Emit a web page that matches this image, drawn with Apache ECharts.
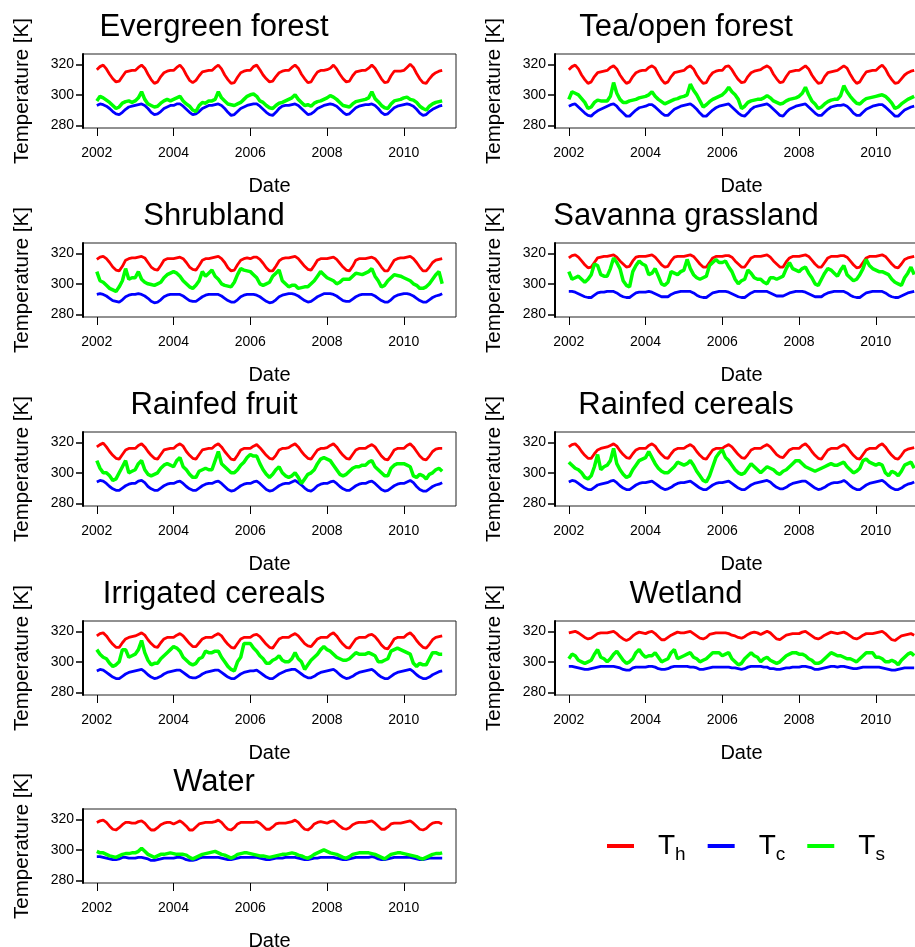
<!DOCTYPE html>
<html>
<head>
<meta charset="utf-8">
<script src="https://cdn.jsdelivr.net/npm/echarts@6/dist/echarts.min.js"></script>
<style>
  html, body { margin: 0; padding: 0; background: #fff; }
  #main { width: 915px; height: 947px; }
</style>
</head>
<body>
<div id="main"></div>
<script>
// panel titles, in reading order (left/right, top to bottom)
const panelNames = ['Evergreen forest', 'Tea/open forest', 'Shrubland', 'Savanna grassland',
  'Rainfed fruit', 'Rainfed cereals', 'Irrigated cereals', 'Wetland', 'Water'];
const seriesNames = ['Th', 'Tc', 'Ts'];
const seriesColors = ['#ff0000', '#0000ff', '#00ff00'];
const yearTicks = [2002, 2004, 2006, 2008, 2010];
const tempTicks = [280, 300, 320];

// monthly samples, Jan 2002 .. Jan 2011 (one row per year)
const evergreenTh = [
  316.5, 318.5, 319.5, 317, 313.5, 310.5, 308.5, 309, 312, 315, 315.5, 316,
  316, 318, 319.5, 317.5, 313.5, 310, 307.5, 308.5, 312, 314.5, 315.5, 316,
  316, 318, 319.5, 317, 313, 309.5, 308, 309.5, 312.5, 315, 315.5, 316,
  316, 318, 319.5, 317, 313, 310, 307.5, 308, 311.5, 314.5, 315.5, 316,
  316, 318.5, 319.5, 316.5, 313, 310.5, 308.5, 309, 312, 314.5, 315.5, 316,
  316, 318, 319.5, 317.5, 313.5, 310.5, 308, 308.5, 312, 315, 316, 316,
  316.5, 317.5, 319.5, 317, 313.5, 310.5, 308.5, 309, 312.5, 315, 315.5, 316,
  316, 317.5, 319.5, 317.5, 314, 310.5, 308, 308.5, 312.5, 315.5, 315.5, 315.5,
  316, 318, 320, 318, 314, 310.5, 308, 307.5, 310.5, 313, 314.5, 315.5,
  316];
const evergreenTc = [
  293, 294, 293.5, 292.5, 291, 289, 287.5, 287, 288.5, 290.5, 292, 292.5,
  293, 293.5, 294, 293, 291, 288.5, 287, 287.5, 289, 291, 292, 293,
  293, 294, 294, 292.5, 290.5, 288.5, 287, 287.5, 289, 291, 292, 293,
  293, 293.5, 294, 293, 291, 288.5, 286.5, 287, 289, 291, 292, 293,
  293.5, 294, 294, 292.5, 290.5, 288.5, 287, 286.5, 288.5, 291, 292.5, 293,
  293, 293.5, 294, 293, 291, 289, 287, 287.5, 289, 291, 292, 293,
  293.5, 294, 293.5, 292.5, 290.5, 288.5, 287, 287.5, 289.5, 291.5, 292.5, 293,
  293.5, 293.5, 294, 293, 291, 288.5, 287, 287.5, 289.5, 291.5, 292.5, 293,
  293.5, 294, 293.5, 292.5, 290.5, 288, 286.5, 287, 289, 290.5, 291.5, 292.5,
  293];
const evergreenTs = [
  296, 299, 298, 296.5, 295, 293, 291, 292, 294.5, 295.5, 296, 295,
  296, 298, 302, 297, 294, 293, 292, 292.5, 294.5, 296, 297, 296,
  297, 298, 299, 296, 294, 292.5, 290, 289, 293, 295, 294.5, 296,
  296, 297, 302, 298, 296, 294, 293.5, 293, 294, 295, 297, 299,
  300, 300.5, 299, 296, 295, 293, 291.5, 291, 293, 294.5, 295, 296,
  297, 298, 300, 297, 295, 293, 293.5, 292.5, 294.5, 295.5, 296, 297,
  298, 299.5, 298.5, 297, 295, 293, 292.5, 292, 294, 295.5, 296, 296.5,
  297, 298, 302, 297.5, 295.5, 293, 291.5, 291, 294, 296, 296.5, 297,
  298, 298.5, 297, 296.5, 295, 292.5, 291, 290, 292.5, 294, 295, 295.5,
  296];

const teaTh = [
  316.5, 318.5, 319.5, 317, 313, 310, 307.5, 308.5, 312, 314.5, 315, 315.5,
  316, 318, 319, 317, 313, 310, 307.5, 308.5, 312, 314.5, 315.5, 316,
  316, 318, 319, 317.5, 313.5, 310, 307.5, 308.5, 312, 314.5, 315, 315.5,
  316, 318, 319, 317, 313, 310, 307.5, 308, 312, 314.5, 315.5, 316,
  316, 318.5, 319, 316.5, 313, 310, 308, 308.5, 312, 314.5, 315.5, 316,
  316.5, 318, 319, 317.5, 313.5, 310.5, 308, 308.5, 312, 315, 315.5, 316,
  316, 317.5, 319, 317, 313, 310, 307.5, 308, 312, 314.5, 315, 315.5,
  316, 317.5, 319, 317.5, 313.5, 310, 307.5, 308.5, 312, 315, 315.5, 316,
  316, 318, 319.5, 317, 313, 310, 307.5, 308, 310.5, 313, 314.5, 315.5,
  316];
const teaTc = [
  292.5, 293.5, 294, 292, 290, 288, 286.5, 286, 288, 289.5, 290.5, 291.5,
  292.5, 293.5, 294, 292.5, 290, 288, 286, 286, 288, 290, 291.5, 292,
  292.5, 293.5, 293.5, 292, 290, 288, 286.5, 286.5, 288.5, 290.5, 291.5, 292.5,
  293, 293.5, 294, 292.5, 290.5, 288, 286, 286, 288, 290, 291.5, 292.5,
  293, 293.5, 294, 292, 290, 288, 286.5, 286, 288, 290.5, 292, 292.5,
  293, 293.5, 294, 292.5, 290.5, 288.5, 286.5, 286, 288.5, 290.5, 291.5, 292.5,
  293, 293.5, 294, 292, 290, 288, 286.5, 286.5, 288.5, 290.5, 292, 292.5,
  293, 293, 293.5, 292.5, 290.5, 288, 286.5, 286.5, 288.5, 290.5, 291.5, 292.5,
  293, 293.5, 293.5, 292, 290, 288, 286, 286, 288, 290, 291, 292,
  292.5];
const teaTs = [
  297, 302, 301, 300, 297.5, 295, 291, 292, 295, 296.5, 296, 296,
  296, 299, 308, 301, 297, 295, 295, 296, 296.5, 297, 298, 298.5,
  299, 300, 302, 299, 297, 295.5, 294, 295, 296, 297, 297.5, 298.5,
  299, 300, 307, 303, 300, 296, 292, 293.5, 295.5, 297, 298, 299,
  300, 302, 305, 302, 300, 297, 291, 292.5, 295, 296, 296.5, 297,
  297, 298, 299.5, 298, 296, 295, 294, 294.5, 296, 297, 297.5, 298,
  299, 301, 305, 300, 296, 294, 291, 292, 294, 295.5, 296.5, 297,
  297, 299.5, 306, 302, 299, 296.5, 294.5, 294, 296, 297.5, 298, 298.5,
  299, 299.5, 300, 299, 297, 294.5, 291, 292, 294, 295.5, 297, 298,
  299];

const shrubTh = [
  316, 317.5, 318, 316.5, 314, 311, 309, 308.5, 311.5, 315.5, 316.5, 317,
  317, 317.5, 318, 317, 314, 311, 309.5, 309, 312, 315.5, 316.5, 316.5,
  316.5, 317, 317.5, 316.5, 314, 311, 309.5, 309, 312, 315.5, 316.5, 316.5,
  317, 317.5, 318, 316.5, 314, 310.5, 308.5, 309, 312.5, 315.5, 316.5, 317,
  316.5, 317.5, 317.5, 316, 313.5, 310.5, 308.5, 308.5, 311.5, 315, 316.5, 317,
  317, 317.5, 318, 316.5, 314, 311.5, 309.5, 309, 312, 315.5, 316.5, 316.5,
  316.5, 317, 317.5, 316, 313.5, 311, 309, 308.5, 311.5, 315.5, 316.5, 316.5,
  316.5, 317, 317.5, 316.5, 314, 311, 308.5, 308.5, 312, 315.5, 316.5, 317,
  317, 317.5, 318, 316.5, 314, 311, 308.5, 308.5, 311, 314, 315.5, 316,
  316.5];
const shrubTc = [
  293, 293.5, 293, 292, 290.5, 289, 288.5, 288, 289.5, 291.5, 292.5, 293,
  293, 293.5, 293, 292, 290.5, 288.5, 287.5, 288, 289.5, 291.5, 292.5, 293,
  293, 293, 293, 292, 290.5, 289, 288.5, 288.5, 290, 291.5, 292.5, 293,
  293, 293, 293, 292, 290.5, 289, 288, 288, 289.5, 291.5, 292.5, 293,
  293, 293, 292.5, 291.5, 290, 288.5, 287.5, 288, 289.5, 291.5, 292.5, 293,
  293.5, 293.5, 293, 292, 290.5, 289, 288, 288.5, 290, 291.5, 292.5, 293.5,
  293.5, 293.5, 293, 292, 290.5, 289, 288.5, 288.5, 290, 291.5, 292.5, 293,
  293, 293, 293, 292, 290.5, 289, 288, 288, 289.5, 291.5, 292.5, 293,
  293.5, 293.5, 293, 292, 290.5, 289, 288, 288, 289.5, 291, 292, 292.5,
  293.5];
const shrubTs = [
  308, 302, 301, 299, 297, 296, 295, 298, 302, 310, 303, 304,
  304, 308, 303, 301, 300, 299.5, 299, 300, 301, 304, 306, 307,
  308, 307, 305, 302, 300, 298, 297, 299, 302, 308, 305, 307,
  309, 305, 303, 300, 299, 298.5, 298, 301, 306, 310, 309, 308.5,
  308, 306, 304, 300, 299, 300, 301, 305, 307, 309, 302, 300,
  298, 299, 299, 297, 297.5, 298, 298, 300, 302, 305, 308, 306,
  304, 303, 302, 300, 301, 303, 303, 303, 305, 307, 306.5, 306,
  307, 308, 310, 305, 302, 298, 299, 302, 304, 306, 305.5, 305,
  304, 303, 302, 300, 299, 297, 297, 298, 300, 303, 306, 308,
  300];

const savannaTh = [
  317, 318.5, 319, 317.5, 315, 312.5, 310.5, 311, 314, 317, 317.5, 318,
  318, 318.5, 319, 317.5, 315, 313, 311, 311.5, 315, 317.5, 318, 318,
  318, 318.5, 319, 317.5, 315, 312.5, 311, 311.5, 315, 317.5, 318, 318,
  318, 318.5, 319, 318, 315.5, 313, 311, 311, 314, 317, 318, 318,
  318, 318.5, 318.5, 317.5, 315, 313, 311, 311, 314, 317, 318, 318,
  318, 318.5, 319, 317.5, 315, 313, 311, 311, 314.5, 317, 318, 318,
  318, 318.5, 319, 318, 315.5, 313, 311, 311, 314, 317, 318, 318,
  318, 318.5, 318.5, 317.5, 315, 312.5, 310.5, 311, 314, 317, 318, 318,
  318, 318.5, 319, 318, 315.5, 313, 311, 310.5, 313, 316, 317, 317.5,
  318];
const savannaTc = [
  295, 295, 294.5, 293.5, 292.5, 291.5, 291, 291, 292.5, 294, 294.5, 294.5,
  295, 295, 295, 294, 292.5, 291.5, 291, 291, 292.5, 294, 294.5, 294.5,
  294.5, 295, 294.5, 293.5, 292.5, 291.5, 291.5, 291.5, 293, 294, 294.5, 295,
  295, 295, 295, 294, 292.5, 291.5, 291, 291, 292.5, 294, 294.5, 295,
  295, 295, 294.5, 293.5, 292.5, 291.5, 291, 291, 292.5, 294, 295, 295,
  295, 295, 295, 294, 293, 292, 292, 292, 293, 294, 294.5, 295,
  295, 295, 294.5, 293.5, 292.5, 291.5, 291.5, 291.5, 293, 294, 294.5, 295,
  295, 295, 295, 294, 292.5, 291.5, 291, 291, 292.5, 294, 294.5, 295,
  295, 295, 295, 294, 292.5, 291.5, 291, 291, 292, 293, 294, 294.5,
  295];
const savannaTs = [
  308, 303, 304, 305, 303, 301, 303, 306, 313, 312, 306, 305,
  305, 310, 317, 314, 310, 302, 299, 298, 308, 312, 315, 313,
  312, 306, 307, 310, 305, 300, 299, 301, 308, 307, 306, 308,
  309, 316, 310, 306, 304, 303, 304, 305, 312, 314, 316, 314,
  314, 315, 311, 308, 303, 300, 302, 303, 309, 307, 304, 303,
  303, 301, 300, 304, 304, 303, 304, 305, 310, 314, 310, 309,
  308, 310, 311, 307, 304, 300, 299, 303, 307, 310, 309, 307,
  305, 309, 312, 306, 304, 302, 303, 306, 310, 316, 312, 310,
  309, 308, 308, 307, 306, 303, 301, 300, 299, 304, 307, 311,
  306];

const fruitTh = [
  317, 318.5, 319.5, 317, 314, 311.5, 309.5, 309, 312, 315, 316, 316,
  316, 318, 319, 317, 314, 311.5, 309.5, 309, 312, 315, 315.5, 316,
  316, 318, 319, 317.5, 314, 311.5, 309.5, 309, 312, 315, 315.5, 316,
  316, 318, 319, 317, 314, 311.5, 309, 308.5, 311.5, 315, 316, 316,
  316, 317.5, 318.5, 316.5, 314, 311.5, 309.5, 309, 311.5, 315, 316, 316,
  316.5, 318, 319, 317, 314, 311.5, 309.5, 309, 312, 315, 316, 316,
  316.5, 318, 319, 317, 314, 311.5, 309.5, 309, 312, 315, 316, 316,
  316, 317.5, 318.5, 317, 314, 311, 309, 308.5, 311.5, 315, 316, 316,
  316, 318, 319, 317, 314, 311, 309, 308.5, 311, 314, 315.5, 316,
  316];
const fruitTc = [
  294, 295, 294.5, 293, 291, 289.5, 288.5, 288.5, 290, 291.5, 292.5, 293,
  293, 294.5, 295, 293.5, 291, 289.5, 288.5, 288.5, 290, 291.5, 292.5, 293,
  293, 294, 294.5, 293, 291, 289.5, 288.5, 288.5, 290, 291.5, 292.5, 293,
  293, 294, 294.5, 293, 291, 289, 288, 288.5, 290, 291.5, 292.5, 293,
  293, 294, 294.5, 293, 291, 289, 288, 288.5, 290, 291.5, 292.5, 293,
  293, 294, 295, 293.5, 292, 290, 288.5, 288, 289.5, 291.5, 292.5, 293,
  293, 294, 294.5, 293, 291, 289.5, 288.5, 288.5, 290, 291.5, 292.5, 293,
  293, 294, 294.5, 293, 291, 289, 288, 288.5, 290, 291.5, 292.5, 293,
  293, 294, 295, 293.5, 291, 289, 288, 288, 289.5, 291, 292, 292.5,
  293.5];
const fruitTs = [
  308, 303, 300, 300, 298, 295, 296, 300, 304, 308, 300, 301,
  302, 306, 308, 302, 299, 298, 299, 300, 303, 305, 306, 305,
  304, 308, 310, 304, 302, 299, 297, 297, 301, 302, 303, 302,
  302, 308, 314, 306, 304, 302, 300, 300, 302, 305, 307, 310,
  312, 311, 311, 306, 302, 299, 297, 299, 302, 304, 300, 298,
  297, 298, 300, 297, 293, 296, 299, 300, 302, 306, 309, 310,
  309, 308, 305, 302, 299, 298, 299, 301, 303, 304, 304, 305,
  305, 307, 308, 304, 302, 300, 298, 298, 303, 305, 306, 306,
  306, 305, 304, 298, 297, 299, 298, 296, 299, 300, 302, 303,
  301];

const cerealsTh = [
  317, 318.5, 319, 317, 314, 311.5, 309.5, 309.5, 312.5, 315, 316, 316.5,
  317, 318, 319, 317.5, 314.5, 312, 310, 309.5, 312.5, 315, 316, 316,
  316, 318, 319, 317.5, 314.5, 312, 310, 309.5, 312.5, 315, 316, 316,
  316, 317.5, 318.5, 317, 314, 311.5, 309.5, 309, 312, 315, 316, 316,
  316, 317.5, 318.5, 317, 314.5, 312, 310, 309.5, 312, 315, 316, 316,
  316, 317.5, 318.5, 317, 314.5, 312, 310.5, 310, 312.5, 315, 316, 316,
  316, 318, 319, 317, 314, 311.5, 309.5, 309, 312, 315, 316, 316,
  316, 317.5, 318.5, 317, 314, 311.5, 309.5, 309, 312, 315, 316, 316,
  316, 318, 319, 317, 314, 311.5, 309.5, 309, 311.5, 314.5, 315.5, 316,
  316.5];
const cerealsTc = [
  294, 295, 294.5, 293, 291.5, 290, 289, 289, 290.5, 292, 292.5, 293,
  293.5, 294.5, 295, 293.5, 291.5, 290, 289, 289, 290.5, 292, 293, 293.5,
  293.5, 294, 294.5, 293, 291.5, 290, 289, 289.5, 290.5, 292, 293, 293.5,
  293.5, 294, 294.5, 293, 291.5, 290, 289, 289, 290.5, 292, 293, 293.5,
  293.5, 294, 294.5, 293, 291.5, 290, 289, 289, 290.5, 292, 293, 293.5,
  294, 294.5, 295, 294, 292, 290.5, 289.5, 289.5, 290.5, 292, 293, 293.5,
  294, 294.5, 294.5, 293, 291.5, 290, 289, 289.5, 290.5, 292, 293, 293.5,
  293.5, 294, 295, 293.5, 291.5, 290, 289, 289, 290.5, 292, 293, 293.5,
  294, 294.5, 295, 293.5, 291.5, 290, 289, 289, 290, 291.5, 292.5, 293,
  294];
const cerealsTs = [
  307, 305, 303, 302, 300, 297, 296, 298, 304, 312, 302, 304,
  305, 308, 316, 306, 302, 299, 297, 298, 302, 305, 308, 309,
  310, 314, 310, 306, 303, 301, 300, 300, 302, 304, 307, 306,
  305, 306, 308, 305, 301, 298, 295, 294, 298, 304, 310, 313,
  315, 310, 308, 305, 302, 300, 299, 300, 303, 306, 304, 302,
  300, 302, 304, 303, 302, 300, 299, 301, 302, 304, 306, 308,
  308, 306, 304, 303, 302, 301, 302, 303, 304, 305, 306, 305,
  305, 306, 307, 304, 302, 300, 301, 303, 308, 309, 307, 306,
  305, 306, 305, 300, 298, 301, 300, 298, 301, 305, 306, 307,
  303];

const irrigatedTh = [
  317, 318.5, 319, 317, 314, 311.5, 309.5, 309.5, 312.5, 315, 316, 316.5,
  317, 318, 319, 317.5, 314.5, 312, 310, 309.5, 312.5, 315, 316, 316,
  316, 317.5, 318.5, 317, 314.5, 312, 310, 310, 312.5, 315, 316, 316,
  316, 317.5, 318.5, 317, 314, 311.5, 309.5, 309, 312, 315, 316, 316,
  316, 317.5, 318, 316.5, 314, 311.5, 309.5, 309, 312, 315, 316, 316,
  316, 317.5, 318.5, 317, 314.5, 312, 310.5, 310, 312.5, 315, 316, 316,
  316, 318, 319, 317, 314, 311.5, 309.5, 309, 312, 315, 316, 316,
  316, 317.5, 318, 316.5, 314, 311, 309, 308.5, 311.5, 315, 316, 316,
  316, 318, 319, 317, 314, 311.5, 309.5, 309, 311.5, 314.5, 316, 316.5,
  317];
const irrigatedTc = [
  294, 295, 294.5, 293, 291.5, 290, 289, 289, 290.5, 292, 293, 293.5,
  294, 294.5, 295, 293.5, 291.5, 290, 289, 289.5, 290.5, 292, 293, 293.5,
  294, 294.5, 294.5, 293, 291.5, 290, 289.5, 289.5, 290.5, 292, 293, 293.5,
  294, 294.5, 294.5, 293, 291.5, 290, 289, 289, 290.5, 292, 293, 293.5,
  294, 294, 294.5, 293, 291.5, 290, 289, 289, 290.5, 292, 293, 294,
  294.5, 295, 295, 293.5, 292, 290.5, 289.5, 289.5, 290.5, 292, 293, 293.5,
  294, 294.5, 295, 293.5, 291.5, 290, 289, 289.5, 290.5, 292, 293, 293.5,
  294, 294.5, 295, 293.5, 291.5, 290, 289, 289, 290.5, 292, 293, 293.5,
  294, 294.5, 295, 293.5, 291.5, 290, 289, 289, 290, 291.5, 292.5, 293.5,
  294];
const irrigatedTs = [
  308, 305, 303, 302, 299, 297, 298, 300, 308, 308, 303, 304,
  305, 308, 314, 306, 301, 298, 299, 299, 302, 304, 306, 308,
  310, 309, 307, 303, 301, 299, 298, 299, 302, 303, 307, 306,
  306, 307, 307, 303, 300, 297, 295, 294, 300, 303, 312, 312,
  312, 309, 307, 304, 302, 299, 299, 301, 302, 304, 301, 300,
  300, 302, 306, 302, 300, 295, 298, 301, 303, 305, 308, 310,
  308, 307, 305, 303, 302, 301, 301, 302, 304, 306, 305, 305,
  305, 306, 305, 304, 300, 300, 301, 302, 307, 308, 309, 308,
  307, 306, 305, 299, 297, 299, 298, 298, 302, 306, 306, 305,
  305];

const wetlandTh = [
  319, 319.5, 320, 319, 317.5, 316, 315, 315.5, 317, 318.5, 319, 319,
  319, 319.5, 320, 318.5, 316.5, 315, 314, 315, 317, 318.5, 319.5, 319,
  318.5, 319.5, 320, 318.5, 316.5, 314.5, 314.5, 316, 317.5, 318.5, 319.5, 319,
  319, 319.5, 320, 318.5, 317, 315.5, 315, 316, 318, 318.5, 319, 319,
  319, 319, 318.5, 317.5, 317, 316, 315.5, 316.5, 318, 319, 319.5, 319,
  318, 319, 320, 319, 317, 315, 314.5, 316, 317.5, 318, 318.5, 318.5,
  318.5, 319.5, 320, 318.5, 317, 315.5, 315, 316, 317.5, 318.5, 319.5, 319,
  318.5, 319, 319.5, 318.5, 317, 315.5, 315, 316, 317.5, 318.5, 318.5, 318.5,
  319, 319.5, 320, 318.5, 316.5, 314.5, 314, 315.5, 317, 317.5, 318, 318.5,
  317.5];
const wetlandTc = [
  297, 297, 296.5, 296, 295.5, 295, 295, 295.5, 296, 296.5, 297, 297,
  297, 297, 297, 296.5, 296, 295, 294.5, 294.5, 296, 296.5, 296.5, 296.5,
  296.5, 297, 297, 296.5, 295.5, 295, 295, 295.5, 296.5, 297, 297, 297,
  297, 297, 296.5, 296.5, 296, 295, 295, 295.5, 296, 296.5, 296.5, 296.5,
  296.5, 296.5, 296.5, 296, 296, 295.5, 295, 295.5, 296.5, 297, 297, 297,
  297, 296.5, 296.5, 295.5, 295.5, 295, 295, 295.5, 296, 296, 296.5, 296.5,
  296.5, 297, 297, 296.5, 296, 295, 295, 295.5, 296, 296.5, 297, 297,
  296.5, 297, 297, 296.5, 296, 295.5, 295.5, 296, 296.5, 296.5, 296.5, 296.5,
  296.5, 296.5, 296, 295.5, 295, 294.5, 294.5, 295, 295.5, 296, 296, 296,
  296];
const wetlandTs = [
  302, 305, 304, 301, 300, 299, 300, 301, 305, 308, 303, 302,
  300, 302, 305, 307, 304, 301, 299, 300, 302, 306, 308, 305,
  303, 304, 304, 306, 303, 300, 301, 302, 306, 308, 302, 303,
  304, 305, 306, 303, 302, 300, 301, 302, 304, 306, 306, 306,
  304, 305, 306, 302, 300, 298, 299, 302, 304, 306, 304, 303,
  300, 302, 303, 301, 300, 299, 300, 302, 304, 305, 306, 306,
  305, 305, 304, 302, 301, 299, 299, 300, 302, 304, 306, 305,
  304, 304, 303, 302, 302, 301, 300, 302, 304, 306, 306, 306,
  303, 303, 302, 300, 300, 301, 300, 298, 301, 303, 305, 306,
  304];

const waterTh = [
  318, 319, 319.5, 318, 315.5, 313.5, 313, 314.5, 316.5, 318, 318, 317.5,
  317.5, 318.5, 319, 317.5, 315, 313, 313, 314.5, 316.5, 317.5, 318, 318,
  317, 318, 319, 317.5, 315.5, 313, 313, 315, 317, 317.5, 318, 318,
  318, 318.5, 319.5, 318, 315.5, 313.5, 313, 314.5, 317, 318, 318, 318,
  318, 318, 318.5, 317.5, 315.5, 313.5, 313.5, 315, 317, 317.5, 317.5, 317.5,
  318, 318.5, 319.5, 318, 315.5, 313.5, 313, 314.5, 317, 318, 318.5, 318,
  317.5, 318.5, 319, 317.5, 315.5, 314, 313.5, 314.5, 316.5, 317.5, 318, 318,
  318, 318.5, 319, 317.5, 315.5, 313.5, 313.5, 315, 317, 317.5, 317.5, 317.5,
  318, 318.5, 319, 317.5, 315.5, 313.5, 313, 314, 316, 317.5, 318, 318,
  317];
const waterTc = [
  295.5, 295.5, 295, 294.5, 294, 293.5, 293.5, 294, 295, 295, 294.5, 294.5,
  294.5, 295, 295, 294.5, 294, 293, 293, 293.5, 294, 294.5, 294.5, 294.5,
  294.5, 295, 295, 294.5, 293.5, 293, 293, 293.5, 294.5, 295, 295, 295,
  295, 295, 295, 294.5, 294, 293.5, 293.5, 294, 294.5, 295, 295, 295,
  295, 295, 295, 294.5, 294, 293.5, 293.5, 294, 294.5, 294.5, 294.5, 295,
  295, 295, 295, 294.5, 294, 293.5, 293.5, 294, 294.5, 294.5, 295, 295,
  295, 295, 295, 294.5, 294, 293.5, 293.5, 294, 294.5, 295, 295, 295,
  295, 295, 295.5, 295, 294, 293.5, 293.5, 294, 294.5, 295, 295, 295,
  295, 295, 295, 294.5, 294, 293.5, 293.5, 294, 294.5, 294.5, 294.5, 294.5,
  294.5];
const waterTs = [
  299, 298, 298, 297, 296, 295.5, 295, 296, 297, 297.5, 297.5, 298,
  298, 299, 301, 299, 297, 296, 295, 296, 297, 297, 297.5, 298,
  297.5, 297, 297, 297, 296.5, 295, 294, 295, 296, 297, 297.5, 298,
  298.5, 299, 298, 297, 296.5, 295.5, 294.5, 295.5, 297, 297.5, 298, 298,
  297.5, 297, 296.5, 296, 296, 295.5, 295, 295.5, 296, 296.5, 297, 297,
  297.5, 298, 297.5, 296.5, 296, 295, 294.5, 295.5, 297, 298, 299, 300,
  299, 298, 297.5, 297, 296, 295, 294.5, 295.5, 297, 297.5, 298, 298,
  298, 298, 297.5, 297, 296, 295, 294, 295.5, 297, 297.5, 298, 298,
  297.5, 297, 296.5, 296, 295.5, 294.5, 294, 295, 296, 297, 297.5, 297.5,
  298];

const panelData = [
  [evergreenTh, evergreenTc, evergreenTs],
  [teaTh, teaTc, teaTs],
  [shrubTh, shrubTc, shrubTs],
  [savannaTh, savannaTc, savannaTs],
  [fruitTh, fruitTc, fruitTs],
  [cerealsTh, cerealsTc, cerealsTs],
  [irrigatedTh, irrigatedTc, irrigatedTs],
  [wetlandTh, wetlandTc, wetlandTs],
  [waterTh, waterTc, waterTs]
];

const FONT = '"Liberation Sans", Arial, sans-serif';
const colLeft = [83, 555];
const titleCenter = [214, 686];
const rowTop = [54, 243, 432, 621, 809];
const boxW = 373, boxH = 74;

const monthTime = k => 2002 + k / 12;

const grids = [], xAxes = [], yAxes = [], series = [], graphics = [];

panelData.forEach((trio, i) => {
  const left = colLeft[i % 2];
  const top = rowTop[Math.floor(i / 2)];
  grids.push({
    left: left, top: top, width: boxW, height: boxH,
    show: true, borderColor: '#222', borderWidth: 1,
    containLabel: false, outerBoundsMode: 'none'
  });
  xAxes.push({
    gridIndex: i, type: 'value', min: 2001.64, max: 2011.36,
    splitLine: { show: false },
    axisLine: { show: false },
    axisTick: { show: true, customValues: yearTicks, length: 8, lineStyle: { color: '#000', width: 1 } },
    axisLabel: {
      customValues: yearTicks, margin: 18, color: '#000', fontSize: 14, fontFamily: FONT,
      formatter: v => String(Math.round(v))
    },
    name: 'Date', nameLocation: 'middle', nameGap: 48,
    nameTextStyle: { fontSize: 20, color: '#000', fontFamily: FONT }
  });
  yAxes.push({
    gridIndex: i, type: 'value', min: 278.2, max: 326.8,
    splitLine: { show: false },
    axisLine: { show: true, lineStyle: { color: '#000', width: 2 } },
    axisTick: { show: true, customValues: tempTicks, length: 7, lineStyle: { color: '#000', width: 1.5 } },
    axisLabel: {
      customValues: tempTicks, margin: 9, color: '#000', fontSize: 14, fontFamily: FONT
    },
    name: 'Temperature [K]', nameLocation: 'middle', nameGap: 50,
    nameTextStyle: { fontSize: 20.5, color: '#000', fontFamily: FONT }
  });
  trio.forEach((vals, s) => {
    series.push({
      type: 'line', name: seriesNames[s],
      xAxisIndex: i, yAxisIndex: i,
      showSymbol: false, symbol: 'none', animation: false,
      lineStyle: { color: seriesColors[s], width: s === 2 ? 3.5 : 2.8 },
      itemStyle: { color: seriesColors[s] },
      data: vals.map((v, k) => [monthTime(k), v])
    });
  });
  graphics.push({
    type: 'text', x: titleCenter[i % 2], y: top - 27,
    style: {
      text: panelNames[i], fill: '#000', font: '31px ' + FONT,
      align: 'center', verticalAlign: 'middle',
      textAlign: 'center', textVerticalAlign: 'middle'
    }
  });
});

const chart = echarts.init(document.getElementById('main'), null, { renderer: 'canvas' });
chart.setOption({
  backgroundColor: '#fff',
  animation: false,
  grid: grids,
  xAxis: xAxes,
  yAxis: yAxes,
  series: series,
  graphic: graphics,
  legend: {
    data: seriesNames,
    selectedMode: false,
    left: 607, top: 832, padding: 0,
    icon: 'rect', itemWidth: 27, itemHeight: 4, itemGap: 22,
    formatter: name => '{g|}T{s|' + name.slice(1) + '}',
    textStyle: {
      color: '#000', fontSize: 28, fontFamily: FONT,
      rich: {
        g: { width: 19 },
        s: { fontSize: 19, fontFamily: FONT, color: '#000', padding: [18, 0, 0, 0] }
      }
    }
  }
});
</script>
</body>
</html>
